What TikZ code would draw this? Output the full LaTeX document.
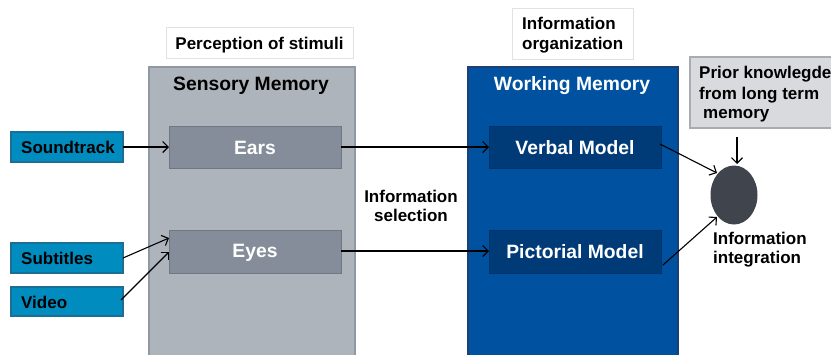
\documentclass[tikz,border=0pt]{standalone}
\usepackage{fontspec}
\setmainfont{Liberation Sans}
\usetikzlibrary{arrows.meta,shapes.geometric}
\definecolor{bgray}{HTML}{AEB4BC}
\definecolor{bgrayb}{HTML}{9098A3}
\definecolor{igray}{HTML}{848D99}
\definecolor{igrayb}{HTML}{6E7782}
\definecolor{cyanb}{HTML}{008CBF}
\definecolor{cyanbd}{HTML}{1B6F93}
\definecolor{wmblue}{HTML}{0052A0}
\definecolor{wmblueb}{HTML}{1C3F78}
\definecolor{vmblue}{HTML}{003B78}
\definecolor{ellc}{HTML}{40454D}
\definecolor{pkfill}{HTML}{D8DADD}
\definecolor{pkbord}{HTML}{A8ACB2}
\definecolor{lbord}{HTML}{E2E2E2}
\tikzset{
  txt/.style={font=\fontsize{17}{20}\selectfont\bfseries, inner sep=0pt},
  head/.style={font=\fontsize{19.3}{22}\selectfont\bfseries, inner sep=0pt, anchor=base},
  src/.style={draw=cyanbd, line width=1.2pt, fill=cyanb},
  inner/.style={draw=igrayb, line width=1pt, fill=igray},
  wminner/.style={draw=vmblue!90!black, line width=0.8pt, fill=vmblue},
  arr/.style={-{Straight Barb[length=5.5pt,width=11pt]}, line width=1.1pt, black},
}
\begin{document}
\begin{tikzpicture}[x=1pt,y=-1pt]
\useasboundingbox (0,0) rectangle (831,354);
% big boxes
\draw[draw=lbord, fill=white, line width=0.8pt] (166,27) rectangle (353,58);
\node[txt, anchor=base] (perc) at (259.5,49) {Perception of stimuli};
\draw[draw=bgrayb, fill=bgray, line width=1.2pt] (149,67) rectangle (355,360);
\node[head] (sm) at (251,90) {Sensory Memory};
\draw[draw=lbord, fill=white, line width=0.8pt] (512,8) rectangle (633,59);
\node[txt, anchor=base west] (org1) at (522,29) {Information};
\node[txt, anchor=base west] (org2) at (522,49) {organization};
\draw[draw=wmblueb, fill=wmblue, line width=1.2pt] (468,67) rectangle (678,360);
\node[head, text=white] (wm) at (572,90) {Working Memory};
% inner boxes
\path[inner] (169,126) rectangle (341,168);
\node[head, text=white] (ears) at (255,154) {Ears};
\path[inner] (169,230) rectangle (341,273);
\node[head, text=white] (eyes) at (255,257.5) {Eyes};
\path[wminner] (489,126) rectangle (661,168);
\node[head, text=white] (verbal) at (575,154.5) {Verbal Model};
\path[wminner] (489,230) rectangle (661,273);
\node[head, text=white] (pict) at (575,258) {Pictorial Model};
\coordinate (earsW) at (169,147);
\coordinate (earsE) at (341,147);
\coordinate (eyesW) at (169,238);
\coordinate (eyesW2) at (169,252);
\coordinate (eyesE) at (341,251);
\coordinate (verbW) at (489,147);
\coordinate (verbE) at (660,144);
\coordinate (pictW) at (489,251);
\coordinate (pictE) at (663,265);
% sources
\path[src] (11,132) rectangle (123,162);
\node[txt, anchor=base west] (sound) at (21,153) {Soundtrack};
\path[src] (11,243) rectangle (123,273);
\node[txt, anchor=base west] (subt) at (21,264) {Subtitles};
\path[src] (11,287) rectangle (123,316);
\node[txt, anchor=base west] (video) at (21,308) {Video};
\coordinate (soundE) at (123,147);
\coordinate (subtE) at (123,258);
\coordinate (videoE) at (121,300);
% prior knowledge
\draw[draw=pkbord, fill=pkfill, line width=1.2pt] (690,57) rectangle (835,128);
\node[txt, anchor=base west] (prior1) at (699,78) {Prior knowlegde};
\node[txt, anchor=base west] (prior2) at (699,99) {from long term};
\node[txt, anchor=base west] (prior3) at (703,118.5) {memory};
\coordinate (priorS) at (737,137);
% ellipse
\node[ellipse, fill=ellc, minimum width=47pt, minimum height=59pt, inner sep=0pt] (ell) at (734,195) {};
\node[txt, anchor=base west] (integ1) at (713,244) {Information};
\node[txt, anchor=base west] (integ2) at (713,263.5) {integration};
\node[txt, anchor=base] (sel1) at (411,202) {Information};
\node[txt, anchor=base] (sel2) at (411,221) {selection};
% arrows
\draw[arr] (soundE) -- (earsW);
\draw[arr] (subtE) -- (eyesW);
\draw[arr] (videoE) -- (eyesW2);
\draw[arr] (earsE) -- (verbW);
\draw[arr] (eyesE) -- (pictW);
\draw[arr] (verbE) -- (717,173);
\draw[arr] (pictE) -- (717,217);
\draw[arr] (priorS) -- (737,164);
\end{tikzpicture}
\end{document}
